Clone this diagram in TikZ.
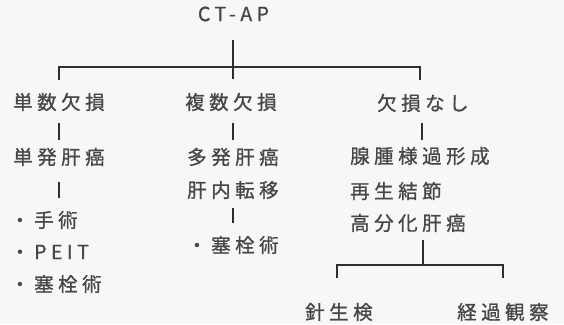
\documentclass[tikz,border=0pt]{standalone}
\usepackage{fontspec}
\setmainfont{Noto Sans CJK JP}[LetterSpace=23,FakeBold=1]
\begin{document}
\begin{tikzpicture}[x=1pt,y=-1pt,
  lbl/.style={inner sep=0pt,anchor=west,text=black!72,font=\fontsize{19.5}{24}\selectfont},
  ln/.style={draw=black!82,line width=2pt}]
\useasboundingbox[fill=black!3] (0,0) rectangle (564,324);
% texts
\node[lbl,anchor=center] (ct) at (233.5,14) {CT-AP};
\node[lbl] (a1) at (13,102) {単数欠損};
\node[lbl] (b1) at (185,102) {複数欠損};
\node[lbl] (c1) at (377,103) {欠損なし};
\node[lbl] (a2) at (13,157) {単発肝癌};
\node[lbl] (b2) at (187,157) {多発肝癌};
\node[lbl] (b3) at (187,190) {肝内転移};
\node[lbl] (c2) at (350,156) {腺腫様過形成};
\node[lbl] (c3) at (350,191) {再生結節};
\node[lbl] (c4) at (350,223) {高分化肝癌};
\node[lbl] (a3) at (10,220) {・手術};
\node[lbl] (a4) at (10,252) {・PEIT};
\node[lbl] (a5) at (10,284) {・塞栓術};
\node[lbl] (b4) at (187,245) {・塞栓術};
\node[lbl] (d1) at (305,312) {針生検};
\node[lbl] (d2) at (457,312) {経過観察};
% connector coordinates
\coordinate (top) at (232.5,40);
\coordinate (mid) at (232.5,79);
\coordinate (hl) at (59,67);
\coordinate (hr) at (420,67);
\coordinate (hl2) at (59,80);
\coordinate (hr2) at (420,80);
\draw[ln] (top) -- (mid);
\draw[ln] (hl2) -- (hl) -- (hr) -- (hr2);
\draw[ln] (59,123) -- (59,140);
\draw[ln] (232.5,123) -- (232.5,140);
\draw[ln] (422,123) -- (422,140);
\draw[ln] (59,182) -- (59,198);
\draw[ln] (232.5,208) -- (232.5,223);
\draw[ln] (423,240) -- (423,265);
\draw[ln] (337,278) -- (337,265) -- (503,265) -- (503,278);
\end{tikzpicture}
\end{document}
